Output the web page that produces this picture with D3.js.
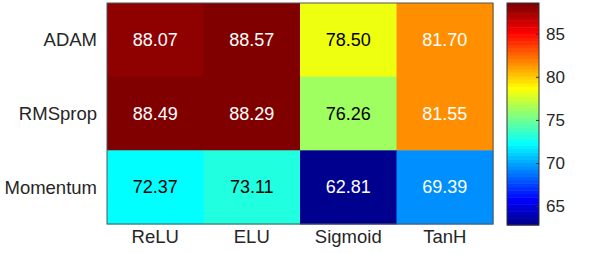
<!DOCTYPE html>
<html><head><meta charset="utf-8">
<script src="https://cdn.jsdelivr.net/npm/d3@7"></script>
<style>body{margin:0;background:#fff;} text{font-family:"Liberation Sans",Arial,sans-serif;}</style>
</head><body>
<svg id="c" width="598" height="253"></svg>
<script>
const optimizers = ["ADAM", "RMSprop", "Momentum"];
const activations = ["ReLU", "ELU", "Sigmoid", "TanH"];
const adamValues = [88.07, 88.57, 78.50, 81.70];
const rmspropValues = [88.49, 88.29, 76.26, 81.55];
const momentumValues = [72.37, 73.11, 62.81, 69.39];
const colorbarTicks = [65, 70, 75, 80, 85];

const rows = [adamValues, rmspropValues, momentumValues];
const cells = [];
rows.forEach((vals, i) => vals.forEach((v, j) => cells.push({opt: optimizers[i], act: activations[j], v})));

// MATLAB jet(64)
function jet(m) {
  const n = Math.ceil(m / 4);
  const u = [];
  for (let i = 1; i <= n; i++) u.push(i / n);
  for (let i = 0; i < n - 1; i++) u.push(1);
  for (let i = n; i >= 1; i--) u.push(i / n);
  const off = Math.ceil(n / 2) - (m % 4 === 1 ? 1 : 0);
  const J = Array.from({length: m}, () => [0, 0, 0]);
  u.forEach((val, k) => {
    const g = off + k + 1, r = g + n, b = g - n;
    if (r >= 1 && r <= m) J[r - 1][0] = val;
    if (g >= 1 && g <= m) J[g - 1][1] = val;
    if (b >= 1 && b <= m) J[b - 1][2] = val;
  });
  return J.map(c => d3.rgb(c[0] * 255, c[1] * 255, c[2] * 255).formatHex());
}
const cmap = jet(64);
const allVals = cells.map(d => d.v);
const vmin = d3.min(allVals), vmax = d3.max(allVals);
const idx = d3.scaleQuantize().domain([vmin, vmax]).range(d3.range(64));
const color = v => cmap[idx(v)];

const svg = d3.select("#c");
const L = 107, R = 493, T = 3, B = 224;
const x = d3.scaleBand().domain(activations).range([L, R]);
const y = d3.scaleBand().domain(optimizers).range([T, B]);

svg.selectAll("rect.cell").data(cells).join("rect")
  .attr("x", d => x(d.act)).attr("y", d => y(d.opt))
  .attr("width", x.bandwidth() + 0.5).attr("height", y.bandwidth() + 0.5)
  .attr("fill", d => color(d.v));

svg.append("rect").attr("x", L).attr("y", T).attr("width", R - L).attr("height", B - T)
  .attr("fill", "none").attr("stroke", "#555").attr("stroke-width", 1);

const darkText = v => { const c = d3.rgb(color(v)); return (0.299*c.r + 0.587*c.g + 0.114*c.b) < 165; };
svg.selectAll("text.val").data(cells).join("text")
  .attr("x", d => x(d.act) + x.bandwidth() / 2)
  .attr("y", d => y(d.opt) + y.bandwidth() / 2)
  .attr("text-anchor", "middle").attr("dominant-baseline", "central")
  .attr("font-size", 18)
  .attr("fill", d => darkText(d.v) ? "#fff" : "#000")
  .text(d => d.v.toFixed(2));

svg.selectAll("text.ylab").data(optimizers).join("text")
  .attr("x", 97).attr("y", d => y(d) + y.bandwidth() / 2)
  .attr("text-anchor", "end").attr("dominant-baseline", "central")
  .attr("font-size", 18.5).attr("fill", "#262626").text(d => d);

svg.selectAll("text.xlab").data(activations).join("text")
  .attr("x", d => x(d) + x.bandwidth() / 2).attr("y", 243)
  .attr("text-anchor", "middle")
  .attr("font-size", 18.5).attr("fill", "#262626").text(d => d);

// colorbar
const cbL = 507, cbR = 539, cbT = 3, cbB = 225;
const cy = d3.scaleLinear().domain([vmin, vmax]).range([cbB, cbT]);
const steps = d3.range(64).map(i => vmin + (vmax - vmin) * i / 64);
svg.selectAll("rect.cb").data(steps).join("rect")
  .attr("x", cbL).attr("width", cbR - cbL)
  .attr("y", d => cy(d + (vmax - vmin) / 64))
  .attr("height", d => cy(d) - cy(d + (vmax - vmin) / 64) + 0.5)
  .attr("fill", (d, i) => cmap[i]);
svg.append("rect").attr("x", cbL).attr("y", cbT).attr("width", cbR - cbL).attr("height", cbB - cbT)
  .attr("fill", "none").attr("stroke", "#333").attr("stroke-width", 1);
const ax = svg.append("g").attr("transform", `translate(${cbR},0)`)
  .call(d3.axisRight(cy).tickValues(colorbarTicks).tickSize(-3).tickPadding(7));
ax.select(".domain").remove();
ax.selectAll("line").attr("stroke", "#333");
ax.selectAll("text").attr("font-size", 17).attr("fill", "#262626")
  .attr("font-family", "Liberation Sans, Arial, sans-serif");
</script>
</body></html>
